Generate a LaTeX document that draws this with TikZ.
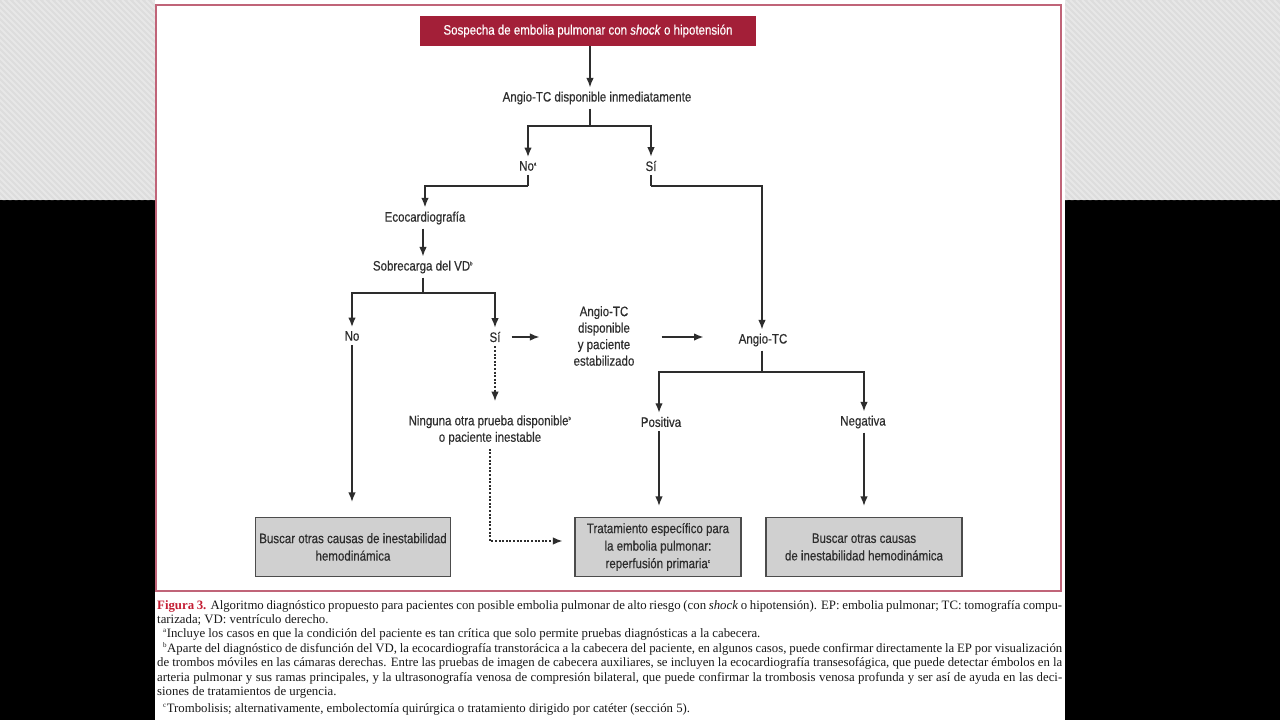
\documentclass[tikz,border=0pt]{standalone}
\usepackage{fontspec}
\setmainfont{Liberation Serif}
\newfontfamily\condsans[FakeStretch=0.84, UprightFeatures={FakeBold=0.35}, ItalicFeatures={FakeBold=0.35}]{Liberation Sans}
\usetikzlibrary{arrows.meta,positioning}

\definecolor{framered}{RGB}{192,100,120}
\definecolor{headred}{RGB}{163,31,56}
\definecolor{inkgray}{RGB}{45,45,45}
\definecolor{boxgray}{RGB}{208,208,208}
\definecolor{panelgray}{RGB}{221,221,221}
\definecolor{stripegray}{RGB}{231,231,231}
\definecolor{capred}{RGB}{196,30,52}
\definecolor{capink}{RGB}{25,25,25}

\newcommand{\supmark}[1]{\textsuperscript{\tiny #1}}
\newcommand{\capmark}[1]{\textsuperscript{\scriptsize #1}}

\tikzset{
  lbl/.style={font=\condsans\fontsize{13.7pt}{16.5pt}\selectfont, text=inkgray, align=center, inner sep=4pt},
  headbox/.style={lbl, fill=headred, text=white, minimum width=336pt, minimum height=30pt},
  endbox/.style={lbl, font=\condsans\fontsize{13.7pt}{17.5pt}\selectfont, draw=inkgray!85, line width=1.2pt, fill=boxgray, minimum height=59pt},
  link/.style={draw=inkgray, line width=1.4pt},
  arr/.style={link, -{Latex[length=9.5pt,width=7.5pt]}},
  dotarr/.style={arr, dash pattern=on 2pt off 1.6pt},
  capline/.style={font=\fontsize{12.8pt}{14pt}\selectfont, text=capink, anchor=base west, inner sep=0pt}
}

\begin{document}
\begin{tikzpicture}[x=1pt, y=-1pt, line cap=butt, line join=miter]

% Canvas: 1280 x 720, one unit = one pixel
\useasboundingbox (0,0) rectangle (1280,720);

% Backdrop: striped panels on top, black below
\fill[black] (0,0) rectangle (1280,720);
\fill[panelgray] (0,0) rectangle (155,200);
\fill[panelgray] (1065,0) rectangle (1280,200);
\begin{scope}
  \clip (0,0) rectangle (155,200) (1065,0) rectangle (1280,200);
  \foreach \k in {-220,-214,...,1280}
    \draw[stripegray, line width=2pt] (\k,0) -- ++(220,220);
\end{scope}

% Page and frame
\fill[white] (155,0) rectangle (1065,720);
\draw[framered, line width=1.6pt] (156,5) rectangle (1061,591);

% Nodes of the algorithm
\node[headbox] (susp) at (588,31) {Sospecha de embolia pulmonar con \textit{shock} o hipotensión};
\node[lbl] (angio) at (597,98) {Angio-TC disponible inmediatamente};
\node[lbl] (no1) at (528,166) {No\supmark{a}};
\node[lbl] (si1) at (651,166) {Sí};
\node[lbl] (eco) at (425,218) {Ecocardiografía};
\node[lbl] (sobre) at (423,267) {Sobrecarga del VD\supmark{b}};
\node[lbl] (no2) at (352,336) {No};
\node[lbl] (si2) at (495,337) {Sí};
\node[lbl] (cond) at (604,336) {Angio-TC\\disponible\\y paciente\\estabilizado};
\node[lbl] (angio2) at (763,340) {Angio-TC};
\node[lbl] (ning) at (490,430) {Ninguna otra prueba disponible\supmark{b}\\o paciente inestable};
\node[lbl] (pos) at (661,422) {Positiva};
\node[lbl] (neg) at (863,422) {Negativa};

% Outcome boxes
\node[endbox, minimum width=194pt] (box1) at (353,547) {Buscar otras causas de inestabilidad\\hemodinámica};
\node[endbox, minimum width=166pt] (box2) at (658,547) {Tratamiento específico para\\la embolia pulmonar:\\reperfusión primaria\supmark{c}};
\node[endbox, minimum width=196pt] (box3) at (864,547) {Buscar otras causas\\de inestabilidad hemodinámica};

% Junctions
\coordinate (j1) at (590,126);
\coordinate (j2) at (528,186);
\coordinate (j3) at (651,186);
\coordinate (j4) at (423,293);
\coordinate (j5) at (762,372);

% Connectors
\draw[arr] (susp.south -| 590,0) -- (angio.north -| 590,0);
\draw[link] (angio.south -| j1) -- (j1);
\draw[arr] (j1) -| (no1.north);
\draw[arr] (j1) -| (si1.north);
\draw[link] (no1.south) -- (j2);
\draw[arr] (j2) -| (eco.north);
\draw[link] (si1.south) -- (j3);
\draw[arr] (j3) -| (angio2.north -| j5);
\draw[arr] (eco.south -| j4) -- (sobre.north -| j4);
\draw[link] (sobre.south -| j4) -- (j4);
\draw[arr] (j4) -| (no2.north);
\draw[arr] (j4) -| (si2.north);
\draw[arr, shorten <=7pt, shorten >=30pt] (si2.east) -- (si2.east -| cond.west);
\draw[arr, shorten <=23pt, shorten >=31pt] (si2.east -| cond.east) -- (si2.east -| angio2.west);
\draw[link] (angio2.south -| j5) -- (j5);
\draw[arr] (j5) -| (pos.north -| 659,0);
\draw[arr] (j5) -| (neg.north -| 864,0);
\draw[arr, shorten >=15pt] (no2.south) -- (box1.north -| no2.south);
\draw[dotarr, shorten >=10pt] (si2.south) -- (ning.north -| si2.south);
\draw[dotarr, shorten >=12pt] (ning.south) |- ([yshift=6pt]box2.west);
\draw[arr, shorten >=11pt] (pos.south -| 659,0) -- (box2.north -| 659,0);
\draw[arr, shorten >=11pt] (neg.south -| 864,0) -- (box3.north);

% Caption
\node[capline] (cap1) at (157,609) {\makebox[905pt][s]{\textcolor{capred}{\textbf{Figura 3.}} Algoritmo diagnóstico propuesto para pacientes con posible embolia pulmonar de alto riesgo (con \textit{shock} o hipotensión). EP: embolia pulmonar; TC: tomografía compu-}};
\node[capline] (cap2) at (157,623) {tarizada; VD: ventrículo derecho.};
\node[capline] (cap3) at (163,637) {\capmark{a}Incluye los casos en que la condición del paciente es tan crítica que solo permite pruebas diagnósticas a la cabecera.};
\node[capline] (cap4) at (163,652) {\makebox[899pt][s]{\capmark{b}Aparte del diagnóstico de disfunción del VD, la ecocardiografía transtorácica a la cabecera del paciente, en algunos casos, puede confirmar directamente la EP por visualización}};
\node[capline] (cap5) at (157,666) {\makebox[905pt][s]{de trombos móviles en las cámaras derechas. Entre las pruebas de imagen de cabecera auxiliares, se incluyen la ecocardiografía transesofágica, que puede detectar émbolos en la}};
\node[capline] (cap6) at (157,681) {\makebox[905pt][s]{arteria pulmonar y sus ramas principales, y la ultrasonografía venosa de compresión bilateral, que puede confirmar la trombosis venosa profunda y ser así de ayuda en las deci-}};
\node[capline] (cap7) at (157,695) {siones de tratamientos de urgencia.};
\node[capline] (cap8) at (163,712) {\capmark{c}Trombolisis; alternativamente, embolectomía quirúrgica o tratamiento dirigido por catéter (sección 5).};

\end{tikzpicture}
\end{document}
